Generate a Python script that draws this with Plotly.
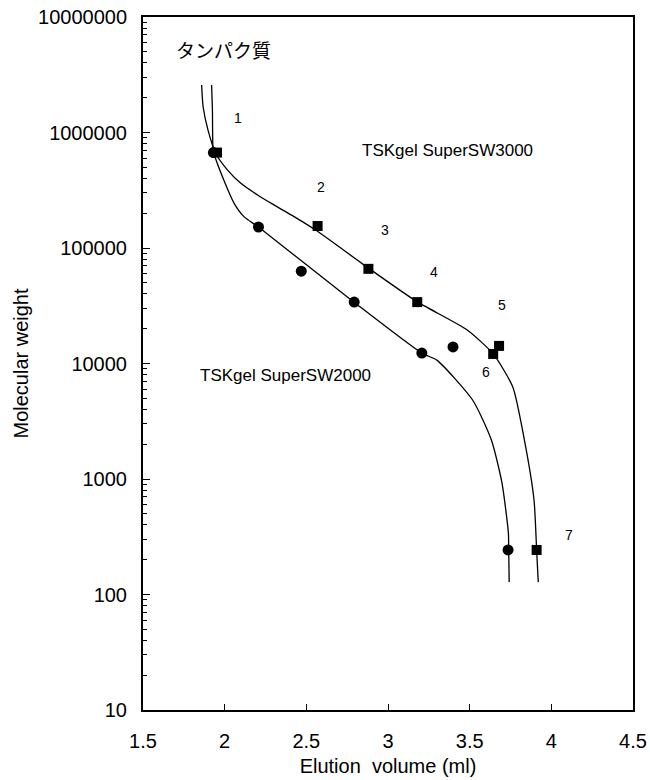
import numpy as np
import plotly.graph_objects as go

# ---- data ----
sw3000_vol = [1.953, 2.569, 2.880, 3.179, 3.680, 3.644, 3.910]
sw3000_mw = [670000, 155000, 66000, 34000, 14200, 12100, 243]

sw2000_vol = [1.931, 2.207, 2.469, 2.793, 3.207, 3.398, 3.735]
sw2000_mw = [670000, 152000, 63000, 34000, 12300, 13900, 243]

# calibration curves (hand-drawn smooth curves)
curve3000_vol = [1.859, 1.868, 1.898, 1.947, 2.018, 2.099, 2.201, 2.302, 2.425, 2.557,
                 2.882, 3.177, 3.485, 3.644, 3.764, 3.835, 3.894, 3.910, 3.920]
curve3000_mw = [2580000, 1670000, 1050000, 652000, 473000, 363000, 288000, 236000, 187000, 143000,
                66700, 34300, 19500, 12100, 6270, 2180, 658, 243, 128]

curve2000_vol = [1.920, 1.925, 1.929, 1.937, 1.997, 2.057, 2.118, 2.209, 2.788,
                 3.207, 3.299, 3.518, 3.633, 3.698, 3.737, 3.739, 3.742]
curve2000_mw = [2580000, 1570000, 705000, 638000, 380000, 245000, 187000, 151000, 34300,
                12300, 10700, 4830, 2180, 922, 341, 243, 128]

peak_labels = ["1", "2", "3", "4", "5", "6", "7"]
peak_label_vol = [2.084, 2.590, 2.982, 3.279, 3.700, 3.599, 4.107]
peak_label_mw = [1340000, 337000, 143000, 62000, 32100, 8430, 327]

x_ticks = [1.5, 2, 2.5, 3, 3.5, 4, 4.5]
x_ticktext = ["1.5", "2", "2.5", "3", "3.5", "4", "4.5"]
y_ticks = [10, 100, 1000, 10000, 100000, 1000000, 10000000]
y_ticktext = ["10", "100", "1000", "10000", "100000", "1000000", "10000000"]

title_text = "タンパク質"
sw3000_name = "TSKgel SuperSW3000"
sw2000_name = "TSKgel SuperSW2000"
x_title = "Elution  volume (ml)"
y_title = "Molecular weight"

# ---- figure ----
FONT = "Liberation Sans, Arial, sans-serif"
fig = go.Figure()

line_style = dict(color="black", width=1.3, shape="spline", smoothing=0.6)
fig.add_trace(go.Scatter(x=curve3000_vol, y=curve3000_mw, mode="lines", line=line_style,
                         showlegend=False, hoverinfo="skip"))
fig.add_trace(go.Scatter(x=curve2000_vol, y=curve2000_mw, mode="lines", line=line_style,
                         showlegend=False, hoverinfo="skip"))
fig.add_trace(go.Scatter(x=sw2000_vol, y=sw2000_mw, mode="markers",
                         marker=dict(symbol="circle", size=11, color="black"),
                         name=sw2000_name, showlegend=False))
fig.add_trace(go.Scatter(x=sw3000_vol, y=sw3000_mw, mode="markers",
                         marker=dict(symbol="square", size=10, color="black"),
                         name=sw3000_name, showlegend=False))

annotations = []
for t, xv, yv in zip(peak_labels, peak_label_vol, peak_label_mw):
    annotations.append(dict(x=xv, y=np.log10(yv), xref="x", yref="y", text=t,
                            showarrow=False, font=dict(size=14, family=FONT, color="black")))
annotations.append(dict(x=2.831, y=np.log10(705000), xref="x", yref="y", text=sw3000_name,
                        showarrow=False, xanchor="left",
                        font=dict(size=17, family=FONT, color="black")))
annotations.append(dict(x=1.839, y=np.log10(7800), xref="x", yref="y", text=sw2000_name,
                        showarrow=False, xanchor="left",
                        font=dict(size=17, family=FONT, color="black")))
annotations.append(dict(x=1.690, y=np.log10(5180000), xref="x", yref="y", text=title_text,
                        showarrow=False, xanchor="left",
                        font=dict(size=19, family="Noto Sans CJK JP", color="black")))

minor_vals = [m * 10 ** k for k in range(1, 7) for m in range(2, 10)]

fig.update_layout(
    width=650, height=780,
    margin=dict(l=143, r=17, t=17, b=70),
    paper_bgcolor="white", plot_bgcolor="white",
    font=dict(family=FONT, color="black"),
    annotations=annotations,
    xaxis=dict(range=[1.5, 4.5], tickvals=x_ticks, ticktext=x_ticktext,
               ticks="inside", ticklen=6, tickwidth=1, tickcolor="black",
               showline=True, linecolor="black", linewidth=2, mirror=True,
               showgrid=False, zeroline=False, automargin=False,
               tickfont=dict(size=20, family=FONT), ticklabelstandoff=12,
               title=dict(text=x_title, font=dict(size=20, family=FONT), standoff=8)),
    yaxis=dict(type="log", range=[1, 7], tickvals=y_ticks, ticktext=y_ticktext,
               ticks="inside", ticklen=7, tickwidth=1, tickcolor="black",
               showline=True, linecolor="black", linewidth=2, mirror=True,
               showgrid=False, zeroline=False, automargin=False,
               minor=dict(tickvals=minor_vals, ticks="inside", ticklen=4,
                          tickcolor="black", showgrid=False),
               tickfont=dict(size=20, family=FONT), ticklabelstandoff=10,
               title=dict(text=y_title, font=dict(size=20, family=FONT), standoff=4)),
)

# remove the browser's default 8px page margin so the figure fills the window
fig.write_html("out.html", config={"displayModeBar": False},
               post_script="document.body.style.margin='0';document.body.style.overflow='hidden';")
